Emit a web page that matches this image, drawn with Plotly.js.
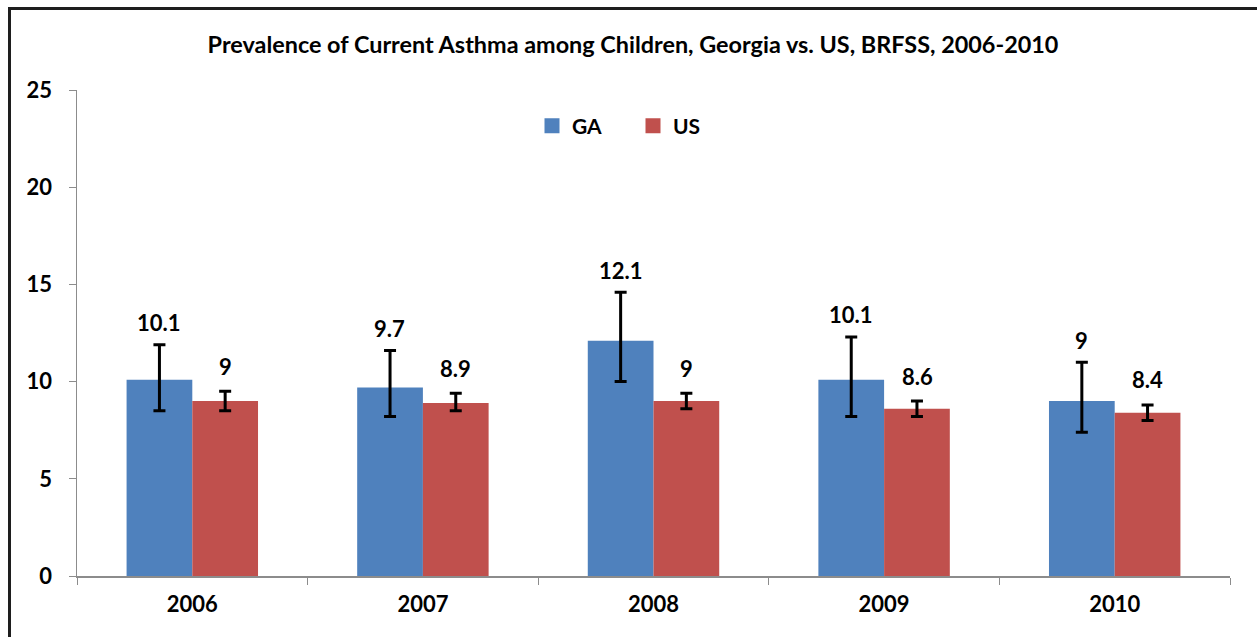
<!DOCTYPE html>
<html>
<head>
<meta charset="utf-8">
<script src="https://cdn.plot.ly/plotly-3.0.1.min.js"></script>
<style>
  html, body { margin: 0; padding: 0; background: #fff; overflow: hidden; width: 1257px; height: 637px; }
  #frame { position: absolute; left: 8px; top: 7px; width: 1300px; height: 700px; box-sizing: border-box;
           border-top: 3px solid #1e1e1e; border-left: 3px solid #1e1e1e; pointer-events: none; }
  #plot { position: absolute; left: 0; top: 0; width: 1257px; height: 637px; }
</style>
</head>
<body>
<div id="plot"></div>
<div id="frame"></div>
<script>
// Years and prevalence (%) with 95% CI bounds
const years = ["2006", "2007", "2008", "2009", "2010"];
const gaVals = [10.1, 9.7, 12.1, 10.1, 9.0];
const gaHigh = [11.9, 11.6, 14.6, 12.3, 11.0];
const gaLow = [8.5, 8.2, 10.0, 8.2, 7.4];
const usVals = [9.0, 8.9, 9.0, 8.6, 8.4];
const usHigh = [9.5, 9.4, 9.4, 9.0, 8.8];
const usLow = [8.5, 8.5, 8.6, 8.2, 8.0];
const yTicks = [0, 5, 10, 15, 20, 25];

const FONT = "Lato, 'Liberation Sans', sans-serif";
const GA_COLOR = "#4f81bd";
const US_COLOR = "#c0504d";

function errBar(vals, hi, lo) {
  return {
    type: "data",
    symmetric: false,
    array: hi.map((h, i) => +(h - vals[i]).toFixed(2)),
    arrayminus: lo.map((l, i) => +(vals[i] - l).toFixed(2)),
    color: "#000000",
    thickness: 3,
    width: 6,
  };
}

const traceGA = {
  type: "bar",
  name: "GA",
  x: years,
  y: gaVals,
  marker: { color: GA_COLOR },
  error_y: errBar(gaVals, gaHigh, gaLow),
  showlegend: false,
};
const traceUS = {
  type: "bar",
  name: "US",
  x: years,
  y: usVals,
  marker: { color: US_COLOR },
  error_y: errBar(usVals, usHigh, usLow),
  showlegend: false,
};

// legend-only entries so the swatches can be drawn larger squares
const legendGA = {
  type: "scatter", mode: "markers", name: "GA", x: [null], y: [null],
  marker: { symbol: "square", size: 15, color: GA_COLOR },
};
const legendUS = {
  type: "scatter", mode: "markers", name: "US", x: [null], y: [null],
  marker: { symbol: "square", size: 15, color: US_COLOR },
};

// value labels sit above the top of each error bar (x given as category index)
const annotations = [];
years.forEach((yr, i) => {
  annotations.push({
    x: i, y: gaHigh[i], xref: "x", yref: "y",
    xshift: -33, yshift: 22, yanchor: "middle",
    text: String(gaVals[i]), showarrow: false,
    font: { family: FONT, size: 22, color: "#000", weight: "bold" },
  });
  annotations.push({
    x: i, y: usHigh[i], xref: "x", yref: "y",
    xshift: 33, yshift: 25, yanchor: "middle",
    text: String(usVals[i]), showarrow: false,
    font: { family: FONT, size: 22, color: "#000", weight: "bold" },
  });
});

const layout = {
  width: 1257,
  height: 637,
  margin: { l: 77, r: 27, t: 90, b: 61 },
  paper_bgcolor: "#ffffff",
  plot_bgcolor: "#ffffff",
  font: { family: FONT, color: "#000", size: 20, weight: "bold" },
  title: {
    text: "<b>Prevalence of Current Asthma among Children, Georgia vs. US, BRFSS, 2006-2010</b>",
    font: { family: FONT, size: 23.4, color: "#000" },
    x: (633 - 77) / 1153,
    xref: "paper",
    xanchor: "center",
    y: 1 - 45 / 637,
    yanchor: "middle",
  },
  barmode: "group",
  bargap: 0.43,
  bargroupgap: 0,
  showlegend: true,
  legend: {
    orientation: "h",
    x: (532 - 77) / 1153,
    xanchor: "left",
    y: (576 - 126) / 486,
    yanchor: "middle",
    font: { family: FONT, size: 21, color: "#000", weight: "bold" },
    itemwidth: 30,
    entrywidth: 56,
    traceorder: "normal",
    bgcolor: "rgba(0,0,0,0)",
  },
  xaxis: {
    type: "category",
    range: [-0.5, 4.5],
    showline: true,
    linecolor: "#8c8c8c",
    linewidth: 1.5,
    ticks: "outside",
    tickson: "boundaries",
    ticklen: 7,
    tickcolor: "#8c8c8c",
    showgrid: false,
    tickangle: 0,
    ticklabelstandoff: 8,
    tickfont: { family: FONT, size: 22, color: "#000", weight: "bold" },
  },
  yaxis: {
    range: [0, 25],
    tickvals: yTicks,
    showline: true,
    linecolor: "#8c8c8c",
    linewidth: 1.5,
    ticks: "outside",
    ticklen: 7,
    tickcolor: "#8c8c8c",
    showgrid: false,
    zeroline: false,
    ticklabelstandoff: 12,
    tickfont: { family: FONT, size: 22, color: "#000", weight: "bold" },
  },
  annotations: annotations,
};

Plotly.newPlot("plot", [traceGA, traceUS, legendGA, legendUS], layout, { displayModeBar: false, staticPlot: true });
</script>
</body>
</html>
